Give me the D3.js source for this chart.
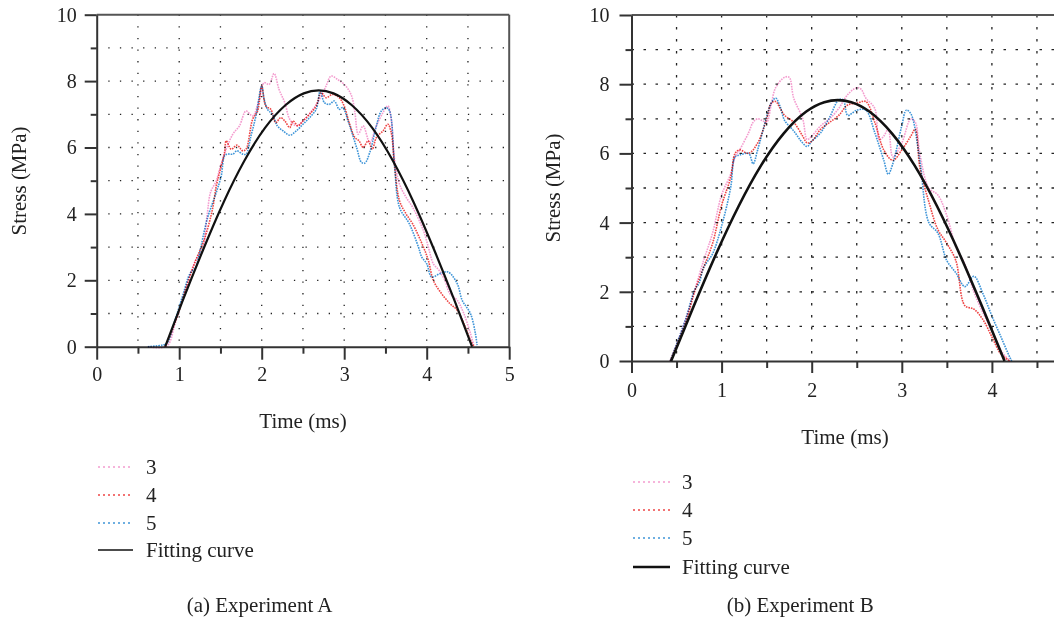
<!DOCTYPE html>
<html>
<head>
<meta charset="utf-8">
<script src="https://cdn.jsdelivr.net/npm/d3@7"></script>
<style>
  body { margin: 0; background: #fff; }
  svg { display: block; }
  text { font-family: "Liberation Serif", "Times New Roman", serif; fill: #222; }
</style>
</head>
<body>
<div id="chart"></div>
<script>
// series names, shared by both panels
var seriesNames = ["3", "4", "5", "Fitting curve"];
var seriesColors = ["#f49ccf", "#ee4646", "#3f95d8", "#111111"];

// axis ticks (panel B is cut at the right, so its last label is not shown)
var xMajorA = [0, 1, 2, 3, 4, 5];
var xMajorB = [0, 1, 2, 3, 4];
var xMinor = [0.5, 1.5, 2.5, 3.5, 4.5];
var xGrid = [0.5, 1, 1.5, 2, 2.5, 3, 3.5, 4, 4.5];
var yMajor = [0, 2, 4, 6, 8, 10];
var yMinor = [1, 3, 5, 7, 9];
var yGrid = [1, 2, 3, 4, 5, 6, 7, 8, 9];

// Experiment A: [time (ms), stress (MPa)]
var a3 = [[0.62,0],[0.85,0.02],[0.95,0.7],[1.05,1.5],[1.15,2.3],[1.22,2.7],[1.28,2.9],[1.34,4.0],[1.38,4.65],[1.45,5.0],[1.49,5.35],[1.57,5.95],[1.65,6.4],[1.73,6.65],[1.81,7.1],[1.89,6.95],[1.97,7.45],[2.03,7.95],[2.09,7.9],[2.15,8.23],[2.21,7.75],[2.28,7.35],[2.34,6.85],[2.42,6.65],[2.5,6.8],[2.62,7.15],[2.7,7.45],[2.78,7.85],[2.84,8.15],[2.92,8.05],[3.02,7.85],[3.09,7.55],[3.13,7.05],[3.17,6.4],[3.23,6.65],[3.31,6.15],[3.39,6.65],[3.47,7.05],[3.53,7.25],[3.57,6.85],[3.61,5.65],[3.67,4.9],[3.75,4.5],[3.83,4.2],[3.96,3.5],[4.02,3.0],[4.08,2.5],[4.15,2.3],[4.22,2.0],[4.28,1.6],[4.37,1.4],[4.45,1.0],[4.53,0.4],[4.57,0.05]];
var a4 = [[0.83,0],[0.9,0.4],[1.0,1.1],[1.1,1.9],[1.2,2.6],[1.3,3.2],[1.4,4.1],[1.45,4.85],[1.5,5.35],[1.55,5.85],[1.57,6.2],[1.63,5.95],[1.7,6.07],[1.77,5.9],[1.81,5.95],[1.89,6.85],[1.95,7.1],[2.0,7.85],[2.05,7.25],[2.11,7.15],[2.17,6.75],[2.23,6.9],[2.28,6.8],[2.34,6.6],[2.38,6.8],[2.44,6.65],[2.5,6.8],[2.58,7.0],[2.66,7.25],[2.72,7.65],[2.78,7.5],[2.86,7.6],[2.94,7.5],[3.0,7.25],[3.06,6.75],[3.13,6.3],[3.18,6.2],[3.23,6.0],[3.29,6.2],[3.34,5.95],[3.39,6.3],[3.47,6.5],[3.53,6.7],[3.57,6.45],[3.61,5.45],[3.67,4.4],[3.75,4.0],[3.83,3.7],[3.96,3.0],[4.02,2.6],[4.08,2.0],[4.18,1.6],[4.28,1.3],[4.37,1.1],[4.45,0.7],[4.53,0.2],[4.57,0.02]];
var a5 = [[0.62,0],[0.8,0.05],[0.85,0.1],[0.95,0.8],[1.05,1.6],[1.13,2.2],[1.2,2.4],[1.24,2.75],[1.34,3.85],[1.45,4.65],[1.51,5.15],[1.55,5.75],[1.59,5.8],[1.65,5.8],[1.7,5.9],[1.77,5.8],[1.81,5.8],[1.87,6.35],[1.93,6.95],[2.0,7.85],[2.03,7.45],[2.07,7.15],[2.13,7.0],[2.19,6.65],[2.26,6.5],[2.34,6.37],[2.42,6.5],[2.5,6.7],[2.58,6.9],[2.66,7.15],[2.71,7.7],[2.76,7.35],[2.82,7.3],[2.88,7.4],[2.94,7.15],[2.98,7.2],[3.06,6.7],[3.15,6.0],[3.21,5.55],[3.25,5.53],[3.31,5.85],[3.39,6.65],[3.45,7.1],[3.51,7.2],[3.55,7.1],[3.61,5.45],[3.67,4.2],[3.79,3.7],[3.9,3.0],[3.94,2.7],[4.0,2.5],[4.06,2.1],[4.16,2.2],[4.26,2.25],[4.37,1.9],[4.43,1.4],[4.53,1.0],[4.59,0.4],[4.61,0.05]];
var aFit = [[0.83,0],[1.04,1.37],[1.29,2.92],[1.54,4.36],[1.79,5.6],[2.04,6.59],[2.29,7.28],[2.51,7.63],[2.69,7.72],[2.87,7.63],[3.09,7.28],[3.34,6.59],[3.59,5.6],[3.84,4.36],[4.09,2.92],[4.34,1.37],[4.55,0]];

// Experiment B: [time (ms), stress (MPa)]
var b3 = [[0.43,0],[0.6,1.2],[0.8,2.9],[0.9,3.7],[1.0,4.8],[1.1,5.4],[1.15,5.9],[1.2,6.1],[1.3,6.6],[1.35,6.9],[1.4,7.0],[1.45,6.95],[1.5,6.9],[1.55,7.4],[1.6,7.9],[1.7,8.2],[1.75,8.2],[1.8,7.6],[1.9,7.0],[1.95,6.4],[2.0,6.5],[2.1,6.8],[2.2,7.0],[2.3,7.3],[2.4,7.7],[2.5,7.9],[2.55,7.85],[2.6,7.6],[2.7,7.3],[2.75,6.4],[2.8,6.5],[2.85,6.7],[2.9,5.9],[3.0,6.3],[3.1,7.0],[3.15,6.9],[3.2,6.0],[3.3,5.0],[3.4,4.8],[3.5,4.2],[3.6,3.3],[3.7,2.8],[3.8,2.0],[3.9,1.4],[4.0,0.9],[4.1,0.3],[4.2,0]];
var b4 = [[0.43,0],[0.6,1.1],[0.7,2.0],[0.8,2.7],[0.9,3.4],[1.0,4.5],[1.1,5.3],[1.15,6.0],[1.2,6.1],[1.3,6.0],[1.4,6.3],[1.5,7.0],[1.55,7.45],[1.6,7.5],[1.65,7.3],[1.7,7.1],[1.8,6.9],[1.9,6.5],[1.95,6.3],[2.0,6.35],[2.1,6.7],[2.2,6.9],[2.3,7.1],[2.4,7.4],[2.5,7.45],[2.6,7.5],[2.7,6.9],[2.8,6.1],[2.9,5.8],[3.0,6.1],[3.1,6.5],[3.15,6.7],[3.2,5.6],[3.3,4.6],[3.4,3.8],[3.5,3.4],[3.6,2.9],[3.7,1.6],[3.8,1.5],[3.9,1.2],[4.0,0.7],[4.1,0.2],[4.2,0]];
var b5 = [[0.43,0],[0.6,1.2],[0.7,2.05],[0.75,2.25],[0.8,2.7],[0.9,3.1],[1.0,3.9],[1.1,5.0],[1.15,5.9],[1.2,5.95],[1.3,6.0],[1.35,5.7],[1.4,6.1],[1.5,7.05],[1.55,7.45],[1.6,7.6],[1.65,7.35],[1.7,6.95],[1.8,6.65],[1.9,6.3],[1.95,6.2],[2.0,6.35],[2.1,6.6],[2.2,7.05],[2.3,7.55],[2.35,7.55],[2.4,7.1],[2.5,7.25],[2.6,7.25],[2.7,6.6],[2.8,5.8],[2.85,5.4],[2.9,5.7],[3.0,6.8],[3.05,7.25],[3.1,7.15],[3.2,5.8],[3.3,4.0],[3.4,3.7],[3.5,2.9],[3.6,2.55],[3.7,2.15],[3.8,2.45],[3.9,1.95],[4.0,1.3],[4.1,0.7],[4.2,0.1],[4.22,0]];
var bFit = [[0.44,0],[0.69,1.58],[0.94,3.1],[1.19,4.48],[1.44,5.66],[1.69,6.58],[1.94,7.21],[2.14,7.48],[2.29,7.54],[2.44,7.48],[2.64,7.21],[2.89,6.58],[3.14,5.66],[3.39,4.48],[3.64,3.1],[3.89,1.58],[4.14,0]];

var svgWidth = 1054;
var svgHeight = 620;

var svg = d3.select("#chart").append("svg")
    .attr("width", svgWidth)
    .attr("height", svgHeight);

svg.append("rect").attr("width", svgWidth).attr("height", svgHeight).attr("fill", "#fff");

// one panel
function drawPanel(p) {
    var x = d3.scaleLinear().domain([0, 5]).range([p.left, p.left + 5 * p.unitX]);
    var y = d3.scaleLinear().domain([0, 10]).range([p.bottom, p.top]);
    var g = svg.append("g");

    // dotted grid
    g.append("g").selectAll("line").data(xGrid).join("line")
        .attr("x1", d => x(d)).attr("x2", d => x(d))
        .attr("y1", y(10)).attr("y2", y(0))
        .attr("stroke", "#222").attr("stroke-width", 1.3)
        .attr("stroke-dasharray", p.gridDash);
    g.append("g").selectAll("line").data(yGrid).join("line")
        .attr("x1", x(0)).attr("x2", x(5))
        .attr("y1", d => y(d)).attr("y2", d => y(d))
        .attr("stroke", "#222").attr("stroke-width", 1.3)
        .attr("stroke-dasharray", p.gridDash);

    // frame: top and right
    g.append("line").attr("x1", x(0)).attr("x2", x(5)).attr("y1", y(10)).attr("y2", y(10))
        .attr("stroke", "#555").attr("stroke-width", 2);
    g.append("line").attr("x1", x(5)).attr("x2", x(5)).attr("y1", y(10)).attr("y2", y(0))
        .attr("stroke", "#555").attr("stroke-width", 2);

    // minor ticks
    g.append("g").attr("transform", `translate(0, ${y(0)})`)
        .call(d3.axisBottom(x).tickValues(xMinor).tickSize(7).tickFormat(""))
        .call(a => a.select(".domain").remove());
    g.append("g").attr("transform", `translate(${x(0)}, 0)`)
        .call(d3.axisLeft(y).tickValues(yMinor).tickSize(6).tickFormat(""))
        .call(a => a.select(".domain").remove());

    // major axes
    g.append("g").attr("transform", `translate(0, ${y(0)})`)
        .call(d3.axisBottom(x).tickValues(p.xTicks).tickFormat(d3.format("d"))
            .tickSize(p.tickX).tickSizeOuter(0).tickPadding(p.padX));
    g.append("g").attr("transform", `translate(${x(0)}, 0)`)
        .call(d3.axisLeft(y).tickValues(yMajor).tickFormat(d3.format("d"))
            .tickSize(12).tickSizeOuter(0).tickPadding(p.padY));

    g.selectAll(".tick line").attr("stroke", "#333").attr("stroke-width", 2);
    g.selectAll(".domain").attr("stroke", "#333").attr("stroke-width", 2);
    g.selectAll(".tick text").attr("font-size", 20).attr("font-family", "Liberation Serif").attr("fill", "#222");

    // series
    var line = d3.line().x(d => x(d[0])).y(d => y(d[1])).curve(d3.curveCatmullRom.alpha(0.5));
    p.series.slice(0, 3).forEach(function (s, i) {
        g.append("path").datum(s)
            .attr("d", line)
            .attr("fill", "none")
            .attr("stroke", seriesColors[i])
            .attr("stroke-width", 1.6)
            .attr("stroke-dasharray", "1.6,1")
            .style("mix-blend-mode", "multiply");
    });
    g.append("path").datum(p.series[3])
        .attr("d", d3.line().x(d => x(d[0])).y(d => y(d[1])).curve(d3.curveNatural))
        .attr("fill", "none")
        .attr("stroke", seriesColors[3])
        .attr("stroke-width", p.fitWidth);

    // axis titles
    g.append("text")
        .attr("transform", `translate(${p.yTitle[0]}, ${p.yTitle[1]}) rotate(-90)`)
        .attr("text-anchor", "middle").attr("dominant-baseline", "central")
        .attr("font-size", 21).text("Stress (MPa)");
    g.append("text")
        .attr("x", p.xTitle[0]).attr("y", p.xTitle[1])
        .attr("text-anchor", "middle").attr("dominant-baseline", "central")
        .attr("font-size", 21).text("Time (ms)");

    // legend
    var leg = g.append("g").selectAll("g").data(seriesNames).join("g")
        .attr("transform", (d, i) => `translate(0, ${p.legendY[i]})`);
    leg.append("line")
        .attr("x1", p.legendX[0]).attr("x2", p.legendX[1])
        .attr("stroke", (d, i) => seriesColors[i])
        .attr("stroke-width", (d, i) => i == 3 ? p.legendFit : 1.6)
        .attr("stroke-dasharray", (d, i) => i == 3 ? null : "2,3");
    leg.append("text")
        .attr("x", p.legendX[2]).attr("dominant-baseline", "central")
        .attr("font-size", 21).text(d => d);

    // caption
    g.append("text")
        .attr("x", p.caption[0]).attr("y", p.caption[1])
        .attr("dominant-baseline", "central")
        .attr("font-size", 21).text(p.label);
}

drawPanel({
    left: 96.7, unitX: 82.5, top: 14.7, bottom: 346.7, xTicks: xMajorA,
    tickX: 13, padX: 7, padY: 8,
    gridDash: "1.3,10.3", fitWidth: 2.2, legendFit: 1.5,
    series: [a3, a4, a5, aFit],
    yTitle: [18.5, 181], xTitle: [303, 421],
    legendX: [98, 133, 146], legendY: [467, 495, 523, 550],
    caption: [186.7, 605], label: "(a) Experiment A"
});

drawPanel({
    left: 631.5, unitX: 90.1, top: 15, bottom: 361, xTicks: xMajorB,
    tickX: 12, padX: 10, padY: 10,
    gridDash: "2.5,9.5", fitWidth: 2.6, legendFit: 2.5,
    series: [b3, b4, b5, bFit],
    yTitle: [553, 188], xTitle: [845, 437],
    legendX: [633, 670, 682], legendY: [482, 510, 538, 567],
    caption: [726.7, 605], label: "(b) Experiment B"
});
</script>
</body>
</html>
